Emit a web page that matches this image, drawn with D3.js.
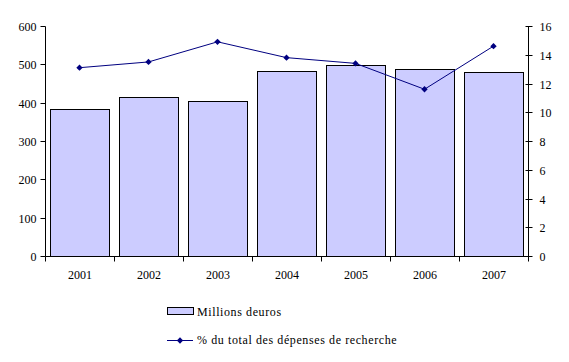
<!DOCTYPE html>
<html>
<head>
<meta charset="utf-8">
<script src="https://cdn.jsdelivr.net/npm/d3@7"></script>
<style>
  body { margin: 0; background: #fff; }
  svg text { font-family: 'Liberation Serif', 'Times New Roman', Times, serif; font-size: 12px; fill: #000; }
  .legend text { letter-spacing: 0.6px; }
</style>
</head>
<body>
<svg id="chart" width="569" height="362"></svg>
<script>
var years = ["2001", "2002", "2003", "2004", "2005", "2006", "2007"];
var millions = [383, 416, 404, 482, 497, 487, 479];
var pourcent = [13.1, 13.5, 14.9, 13.8, 13.4, 11.6, 14.6];
var leftTicks = [0, 100, 200, 300, 400, 500, 600];
var rightTicks = [0, 2, 4, 6, 8, 10, 12, 14, 16];
var barLabel = "Millions deuros";
var lineLabel = "% du total des dépenses de recherche";

var svg = d3.select("#chart");
var plotL = 45, plotR = 528, plotT = 26, plotB = 256;

var x = d3.scaleBand().domain(years).range([plotL, plotR]).paddingInner(0.15).paddingOuter(0.075);
var xEdge = d3.scaleLinear().domain([0, years.length]).range([plotL, plotR]);
var yL = d3.scaleLinear().domain([0, 600]).range([plotB, plotT]);
var yR = d3.scaleLinear().domain([0, 16]).range([plotB, plotT]);

// bars
svg.selectAll("rect.bar")
  .data(millions)
  .enter()
  .append("rect")
  .attr("class", "bar")
  .attr("x", (d, i) => Math.round(x(years[i])) + 0.5)
  .attr("y", d => Math.round(yL(d)) + 0.5)
  .attr("width", Math.round(x.bandwidth()))
  .attr("height", d => plotB - Math.round(yL(d)))
  .attr("fill", "#ccccff")
  .attr("stroke", "#000")
  .attr("stroke-width", 1);

// left axis
var gL = svg.append("g").attr("transform", "translate(" + (plotL + 0.5) + ",0.5)");
gL.append("line").attr("y1", plotT).attr("y2", plotB).attr("stroke", "#000");
gL.selectAll("line.t").data(leftTicks).enter().append("line")
  .attr("x1", -5).attr("x2", 0)
  .attr("y1", d => Math.round(yL(d))).attr("y2", d => Math.round(yL(d)))
  .attr("stroke", "#000");
gL.selectAll("text").data(leftTicks).enter().append("text")
  .attr("x", -9).attr("y", d => Math.round(yL(d)) + 4)
  .attr("text-anchor", "end")
  .text(d => d);

// right axis
var gR = svg.append("g").attr("transform", "translate(" + (plotR + 0.5) + ",0.5)");
gR.append("line").attr("y1", plotT).attr("y2", plotB).attr("stroke", "#000");
gR.selectAll("line.t").data(rightTicks).enter().append("line")
  .attr("x1", -3).attr("x2", 4)
  .attr("y1", d => Math.round(yR(d))).attr("y2", d => Math.round(yR(d)))
  .attr("stroke", "#000");
gR.selectAll("text").data(rightTicks).enter().append("text")
  .attr("x", 11).attr("y", d => Math.round(yR(d)) + 4)
  .text(d => d);

// x axis
var gX = svg.append("g").attr("transform", "translate(0.5," + (plotB + 0.5) + ")");
gX.append("line").attr("x1", plotL).attr("x2", plotR).attr("stroke", "#000");
gX.selectAll("line.t").data(d3.range(years.length + 1)).enter().append("line")
  .attr("x1", d => Math.round(xEdge(d))).attr("x2", d => Math.round(xEdge(d)))
  .attr("y1", 0).attr("y2", 5)
  .attr("stroke", "#000");
gX.selectAll("text").data(years).enter().append("text")
  .attr("x", d => x(d) + x.bandwidth() / 2)
  .attr("y", 22.5)
  .attr("text-anchor", "middle")
  .text(d => d);

// line
var line = d3.line()
  .x((d, i) => x(years[i]) + x.bandwidth() / 2)
  .y(d => yR(d));
svg.append("path")
  .datum(pourcent)
  .attr("d", line)
  .attr("fill", "none")
  .attr("stroke", "#000080")
  .attr("stroke-width", 1);

// square turned 45deg, like the excel diamond marker
var diamond = d3.symbol().type(d3.symbolSquare).size(20);
svg.selectAll("path.pt")
  .data(pourcent)
  .enter()
  .append("path")
  .attr("class", "pt")
  .attr("d", diamond)
  .attr("transform", (d, i) => "translate(" + (x(years[i]) + x.bandwidth() / 2) + "," + yR(d) + ") rotate(45)")
  .attr("fill", "#000080");

// legend
var lg = svg.append("g").attr("class", "legend");
lg.append("rect")
  .attr("x", 167.5).attr("y", 307.5).attr("width", 26).attr("height", 7)
  .attr("fill", "#ccccff").attr("stroke", "#000");
lg.append("text").attr("x", 197).attr("y", 316).text(barLabel);
lg.append("line")
  .attr("x1", 167).attr("x2", 193).attr("y1", 340.5).attr("y2", 340.5)
  .attr("stroke", "#000080");
lg.append("path")
  .attr("d", diamond)
  .attr("transform", "translate(180,340.5) rotate(45)")
  .attr("fill", "#000080");
lg.append("text").attr("x", 197).attr("y", 344).text(lineLabel);
</script>
</body>
</html>
